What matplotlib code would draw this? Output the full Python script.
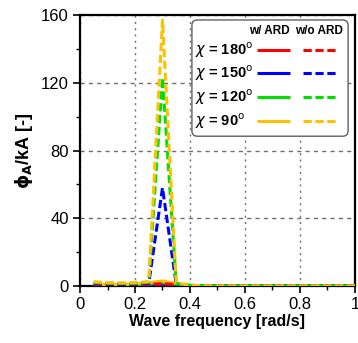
import numpy as np
import matplotlib.pyplot as plt
from matplotlib.lines import Line2D
from matplotlib.patches import FancyBboxPatch
from matplotlib.ticker import MultipleLocator

plt.rcParams['font.family'] = ['Liberation Sans', 'DejaVu Sans']
plt.rcParams['mathtext.fontset'] = 'dejavusans'

# wave frequency [rad/s]
freq = [0.05, 0.10, 0.15, 0.20, 0.25, 0.30, 0.35, 0.40, 0.45, 0.50,
        0.55, 0.60, 0.65, 0.70, 0.75, 0.80, 0.85, 0.90, 0.95, 1.00]

headings = ['180', '150', '120', '90']
colors = ['#ff0000', '#0000ff', '#00e000', '#ffc000']

# with ARD (solid)
with_ard = {
    '180': [0.2, 0.2, 0.2, 0.3, 0.5, 0.8, 0.5, 0.2, 0.1, 0.1, 0.1, 0.1, 0.1, 0.1, 0.1, 0.1, 0.1, 0.1, 0.1, 0.1],
    '150': [0.5, 0.4, 0.4, 0.5, 0.8, 1.2, 0.8, 0.3, 0.2, 0.1, 0.1, 0.1, 0.1, 0.1, 0.1, 0.1, 0.1, 0.1, 0.1, 0.1],
    '120': [0.8, 0.7, 0.7, 0.9, 1.3, 2.0, 1.2, 0.4, 0.2, 0.1, 0.1, 0.1, 0.1, 0.1, 0.1, 0.1, 0.1, 0.1, 0.1, 0.1],
    '90':  [1.0, 1.0, 1.0, 1.3, 2.0, 3.0, 1.6, 0.5, 0.2, 0.1, 0.1, 0.1, 0.1, 0.1, 0.1, 0.1, 0.1, 0.1, 0.1, 0.1],
}

# without ARD (dashed)
without_ard = {
    '180': [0.8, 0.6, 0.6, 0.6, 0.9, 1.5, 0.8, 0.3, 0.2, 0.1, 0.1, 0.1, 0.1, 0.1, 0.1, 0.1, 0.1, 0.1, 0.1, 0.1],
    '150': [1.5, 1.2, 1.1, 1.2, 1.6, 58.0, 1.0, 0.3, 0.2, 0.1, 0.1, 0.1, 0.1, 0.1, 0.1, 0.1, 0.1, 0.1, 0.1, 0.1],
    '120': [2.0, 1.6, 1.5, 1.6, 2.2, 123.0, 1.4, 0.4, 0.2, 0.1, 0.1, 0.1, 0.1, 0.1, 0.1, 0.1, 0.1, 0.1, 0.1, 0.1],
    '90':  [2.5, 2.0, 1.9, 2.0, 2.6, 157.0, 1.8, 0.5, 0.2, 0.1, 0.1, 0.1, 0.1, 0.1, 0.1, 0.1, 0.1, 0.1, 0.1, 0.1],
}

lw = 2.2
dash = (0, (2.7, 1.2))

fig = plt.figure(figsize=(3.58, 3.43), dpi=100)
ax = fig.add_axes([0.2235, 0.166, 0.768, 0.79])

for h, c in zip(headings, colors):
    ax.plot(freq, with_ard[h], color=c, lw=lw, solid_capstyle='butt', zorder=3)
for h, c in zip(headings, colors):
    ax.plot(freq, without_ard[h], color=c, lw=lw, ls=dash, zorder=4)

ax.set_xlim(0, 1)
ax.set_ylim(0, 160)
ax.xaxis.set_minor_locator(MultipleLocator(0.1))
ax.yaxis.set_major_locator(MultipleLocator(40))
ax.yaxis.set_minor_locator(MultipleLocator(20))
ax.set_xticks([0, 0.2, 0.4, 0.6, 0.8, 1.0])
ax.set_xticklabels(['0', '0.2', '0.4', '0.6', '0.8', '1'])

ax.xaxis.grid(True, which='major', color='#707070', ls=(0, (1.5, 3)), lw=1.0)
ax.yaxis.grid(True, which='major', color='#707070', ls=(0, (3, 3)), lw=1.0)
ax.set_axisbelow(True)

ax.tick_params(which='major', direction='out', length=5, width=1.2, labelsize=12, pad=3)
ax.tick_params(which='minor', direction='out', length=3, width=1.0)
for s in ax.spines.values():
    s.set_linewidth(1.6)

ax.set_xlabel('Wave frequency [rad/s]', fontsize=11.5, fontweight='bold', labelpad=1)
ax.set_ylabel(r'$\mathbf{\phi_A}$/kA [-]', fontsize=13, fontweight='bold', labelpad=4)

# hand-made legend: solid = with ARD, dashed = without ARD
tr = ax.transAxes
box = FancyBboxPatch((0.407, 0.553), 0.568, 0.429, boxstyle='round,pad=0,rounding_size=0.02',
                     transform=tr, facecolor='white', edgecolor='#606060', lw=1.0, zorder=10)
ax.add_patch(box)
ax.text(0.687, 0.941, 'w/ ARD', transform=tr, ha='center', va='center',
        fontsize=8.5, fontweight='bold', zorder=11)
ax.text(0.869, 0.941, 'w/o ARD', transform=tr, ha='center', va='center',
        fontsize=8.5, fontweight='bold', zorder=11)
row_y = [0.871, 0.786, 0.697, 0.609]
for h, c, y in zip(headings, colors, row_y):
    ax.text(0.418, y, r'$\chi$ = ' + h + r'$^{\rm o}$', transform=tr, ha='left', va='center',
            fontsize=10.5, fontweight='bold', zorder=11)
    ax.add_line(Line2D([0.644, 0.764], [y, y], transform=tr, color=c, lw=lw,
                       solid_capstyle='butt', zorder=11))
    ax.add_line(Line2D([0.811, 0.931], [y, y], transform=tr, color=c, lw=lw,
                       ls=dash, zorder=11))

fig.savefig('out.png', dpi=100)
